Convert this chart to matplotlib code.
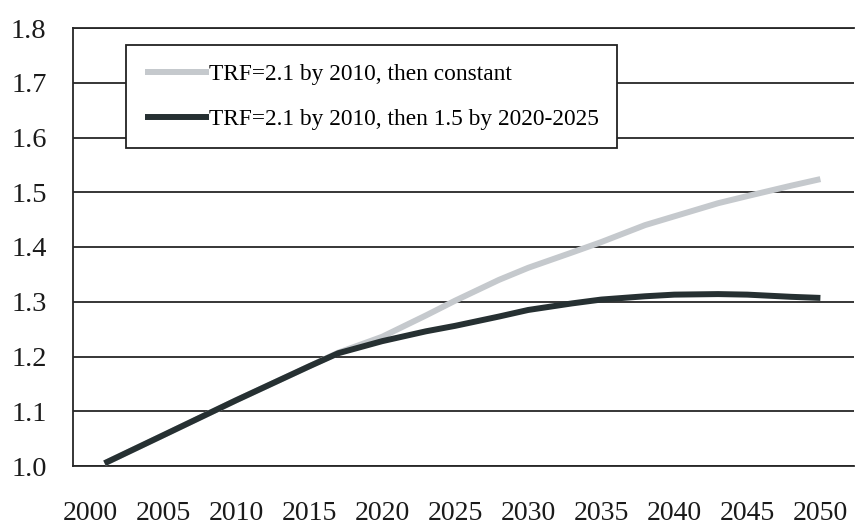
import matplotlib.pyplot as plt

years = [2001, 2005, 2010, 2015, 2017, 2020, 2023, 2025, 2028, 2030,
         2033, 2035, 2038, 2040, 2043, 2045, 2048, 2050]
const_trf = [1.005, 1.056, 1.12, 1.182, 1.207, 1.236, 1.275, 1.302, 1.34, 1.362,
             1.39, 1.409, 1.44, 1.456, 1.48, 1.493, 1.512, 1.524]
low_trf = [1.005, 1.056, 1.12, 1.182, 1.206, 1.228, 1.246, 1.256, 1.273, 1.285,
           1.297, 1.304, 1.31, 1.313, 1.314, 1.313, 1.309, 1.307]
labels = ["TRF=2.1 by 2010, then constant", "TRF=2.1 by 2010, then 1.5 by 2020-2025"]
xticks = list(range(2000, 2051, 5))
yticks = [1.0, 1.1, 1.2, 1.3, 1.4, 1.5, 1.6, 1.7, 1.8]

plt.rcParams['font.family'] = ['Liberation Serif', 'DejaVu Serif']

fig = plt.figure(figsize=(8.57, 5.24), dpi=100)
ax = fig.add_axes([73/857, 1-466/524, (854-73)/857, (466-28)/524])

ax.plot(years, const_trf, color='#c5c9cd', lw=4.3, solid_capstyle='butt', label=labels[0], zorder=3)
ax.plot(years, low_trf, color='#263032', lw=4.3, solid_capstyle='butt', label=labels[1], zorder=4)

ax.set_xlim(1998.84, 2052.3)
ax.set_ylim(1.0, 1.8)
ax.set_xticks(xticks)
ax.set_yticks(yticks)
ax.set_yticklabels(['%.1f' % v for v in yticks])
ax.tick_params(axis='x', length=0, pad=25, labelsize=20, colors='#1a1a1a')
ax.tick_params(axis='y', length=0, pad=19, labelsize=20.5, colors='#1a1a1a')
ax.yaxis.grid(True, color='#262626', lw=1.3)
ax.set_axisbelow(True)
for s in ['left', 'top', 'bottom']:
    ax.spines[s].set_color('#262626')
    ax.spines[s].set_linewidth(1.3)
ax.spines['right'].set_visible(False)

leg = ax.legend(loc='upper left', bbox_to_anchor=(126/857, 1-45/524), bbox_transform=fig.transFigure,
                borderaxespad=0, fancybox=False, framealpha=1, edgecolor='#222222',
                fontsize=16.8, handlelength=2.75, handletextpad=0.0, labelspacing=1.0,
                borderpad=0.8)
leg.get_frame().set_linewidth(1.3)
leg.set_zorder(5)

fig.savefig('out.png', dpi=100)
